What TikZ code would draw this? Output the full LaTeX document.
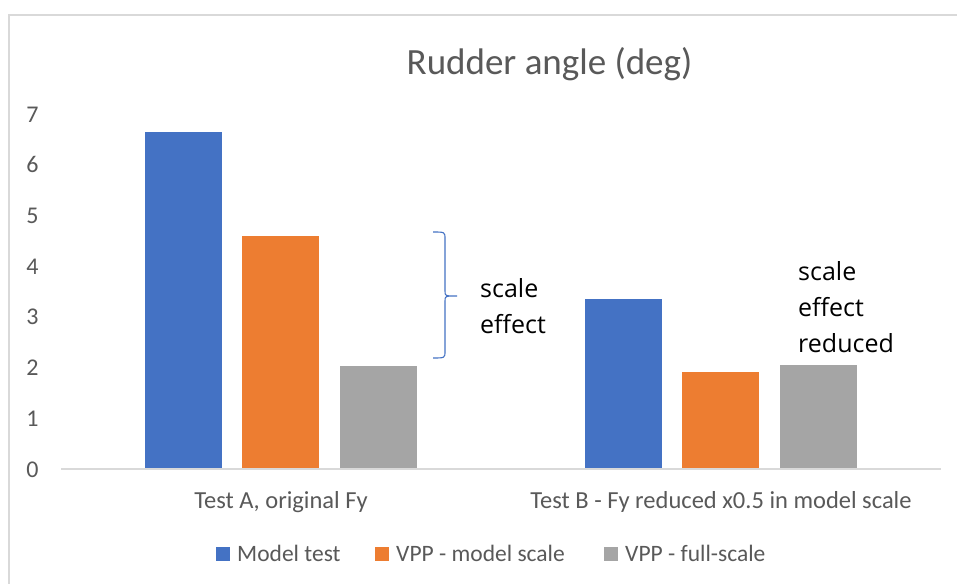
\documentclass[tikz,border=0pt]{standalone}
\usepackage{fontspec}
\setmainfont{Carlito}
\newfontfamily\segoe{Open Sans}
\usepackage{tikz}
\definecolor{sblue}{HTML}{4472C4}
\definecolor{sorange}{HTML}{ED7D31}
\definecolor{sgray}{HTML}{A5A5A5}
\definecolor{gridgray}{HTML}{D9D9D9}
\definecolor{txtgray}{HTML}{595959}

\begin{document}
\begin{tikzpicture}[x=1pt,y=-1pt,
  ticklbl/.style={text=txtgray,font=\fontsize{24}{26}\selectfont,anchor=base,inner sep=0pt},
  catlbl/.style={text=txtgray,font=\fontsize{24.5}{27}\selectfont,anchor=base,inner sep=0pt},
  leglbl/.style={text=txtgray,font=\fontsize{23.5}{26}\selectfont,anchor=base west,inner sep=0pt},
  note/.style={font=\segoe\fontsize{25}{36}\selectfont,align=left,anchor=north west,inner sep=0pt}]
  \useasboundingbox (0,0) rectangle (957,583);
  \clip (0,0) rectangle (957,583);
  \fill[white] (0,0) rectangle (957,583);
  % chart frame
  \draw[gridgray,line width=2pt] (9,600) -- (9,15) -- (980,15);
  % title
  \node[text=txtgray,font=\fontsize{37}{40}\selectfont,inner sep=0pt,anchor=base] (title) at (549.5,75) {Rudder angle (deg)};
  % value axis
  \foreach \v in {0,...,7}
    \node[ticklbl] (t\v) at (32.5,477-50.7*\v) {\v};
  \coordinate (xl) at (61,469);
  \coordinate (xr) at (941,469);
  % bars: test A
  \fill[sblue]   (145,469) rectangle (222,132);
  \fill[sorange] (242,469) rectangle (319,236);
  \fill[sgray]   (340,469) rectangle (417,366);
  % bars: test B
  \fill[sblue]   (585,469) rectangle (662,299);
  \fill[sorange] (682,469) rectangle (759,372);
  \fill[sgray]   (780,469) rectangle (857,365);
  \draw[gridgray,line width=1.5pt] (xl) -- (xr);
  % categories
  \node[catlbl] (catA) at (281,508) {Test A, original Fy};
  \node[catlbl] (catB) at (721,508) {Test B - Fy reduced x0.5 in model scale};
  % brace and notes
  \coordinate (bt) at (433,232);
  \coordinate (btip) at (457,296);
  \coordinate (bb) at (433,358);
  \draw[sblue,line width=1.1pt] (bt) .. controls (445,232) .. (445,239) -- (445,291)
    .. controls (445,296) .. (btip) .. controls (445,296) .. (445,301) -- (445,351)
    .. controls (445,358) .. (bb);
  \node[note] (effA) at (480,278) {scale\\effect};
  \node[note] (effB) at (798,261) {scale\\effect\\reduced};
  % legend
  \fill[sblue]   (216,547) rectangle (230,561);
  \node[leglbl] (lg1) at (237,561) {Model test};
  \fill[sorange] (375,547) rectangle (389,561);
  \node[leglbl] (lg2) at (396,561) {VPP - model scale};
  \fill[sgray]   (604,547) rectangle (618,561);
  \node[leglbl] (lg3) at (625,561) {VPP - full-scale};
\end{tikzpicture}
\end{document}
